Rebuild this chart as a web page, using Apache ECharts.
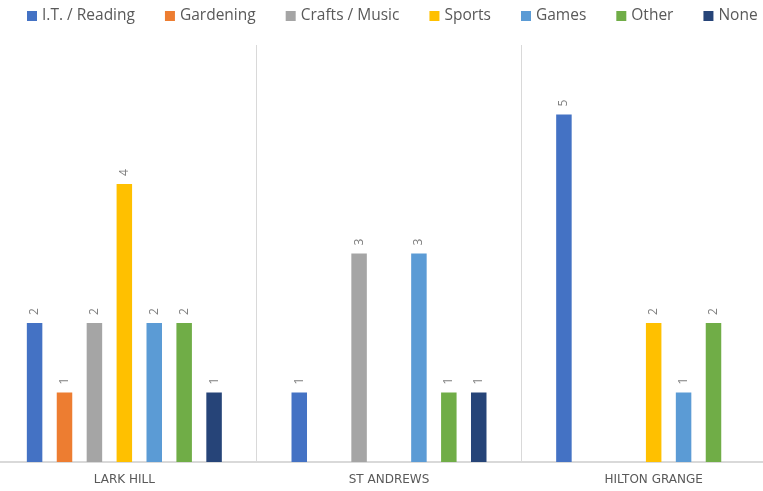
<!DOCTYPE html>
<html>
<head>
<meta charset="utf-8">
<script src="https://cdn.jsdelivr.net/npm/echarts@6/dist/echarts.min.js"></script>
<style>
  html, body { margin: 0; padding: 0; background: #ffffff; overflow: hidden; }
  body { width: 763px; height: 491px; position: relative; }
  /* plot area runs slightly past both page edges */
  #chart { position: absolute; left: -8px; top: 0; width: 794px; height: 491px; }
</style>
</head>
<body>
<div id="chart"></div>
<script>
// Clubs attended, counted per site
const sites = ['LARK HILL', 'ST ANDREWS', 'HILTON GRANGE'];
const activityNames = ['I.T. / Reading', 'Gardening', 'Crafts / Music', 'Sports', 'Games', 'Other', 'None'];
const itReading = [2, 1, 5];
const gardening = [1, null, null];
const craftsMusic = [2, 3, null];
const sports = [4, null, 2];
const games = [2, 3, 1];
const other = [2, 1, 2];
const none = [1, 1, null];
const palette = ['#4472C4', '#ED7D31', '#A5A5A5', '#FFC000', '#5B9BD5', '#70AD47', '#264478'];

const seriesValues = [itReading, gardening, craftsMusic, sports, games, other, none];
const fontFamily = '"Open Sans", "Noto Sans", sans-serif';

const chart = echarts.init(document.getElementById('chart'), null, { renderer: 'canvas' });

chart.setOption({
  animation: false,
  backgroundColor: '#ffffff',
  color: palette,
  legend: {
    top: 3,
    left: 30,
    icon: 'rect',
    itemWidth: 10,
    itemHeight: 10,
    itemGap: 30,
    textStyle: { color: '#595959', fontSize: 15.5, fontFamily: fontFamily },
    data: activityNames
  },
  grid: { left: 0, right: 0, top: 45, bottom: 29 },
  xAxis: {
    type: 'category',
    data: sites,
    axisTick: { show: false },
    axisLine: { lineStyle: { color: '#d9d9d9', width: 2 } },
    axisLabel: { color: '#595959', fontSize: 12, fontFamily: '"DejaVu Sans", sans-serif', margin: 12 },
    splitLine: { show: true, lineStyle: { color: '#d9d9d9', width: 1 } }
  },
  yAxis: {
    type: 'value',
    min: 0,
    max: 6,
    interval: 1,
    show: false,
    splitLine: { show: false }
  },
  series: seriesValues.map((values, i) => ({
    name: activityNames[i],
    type: 'bar',
    data: values,
    barWidth: 15.5,
    barGap: '93%',
    label: {
      show: true,
      position: 'top',
      rotate: 90,
      align: 'left',
      verticalAlign: 'middle',
      distance: 8,
      color: '#7f7f7f',
      fontSize: 12,
      fontFamily: fontFamily
    }
  }))
});
</script>
</body>
</html>
